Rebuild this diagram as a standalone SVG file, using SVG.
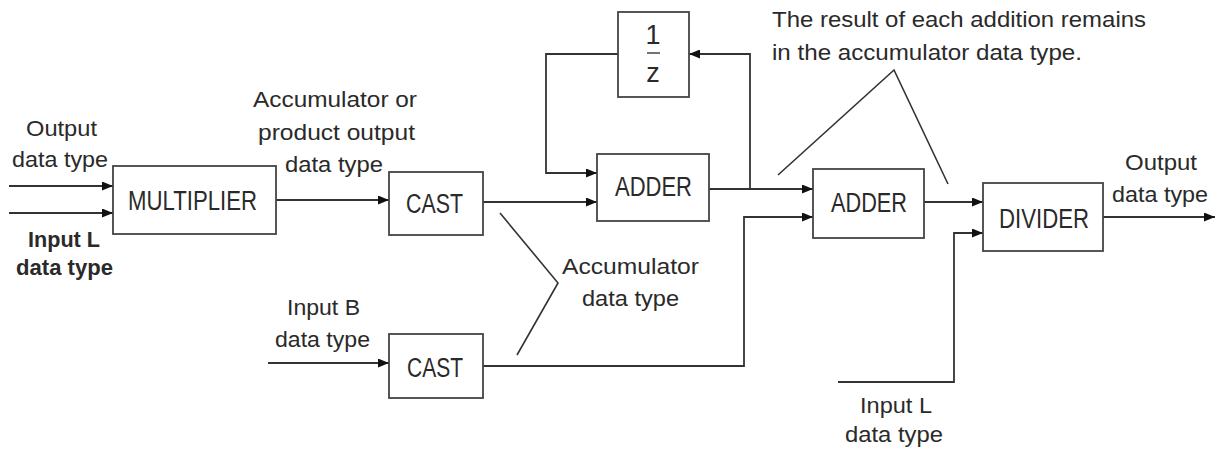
<svg xmlns="http://www.w3.org/2000/svg" width="1215" height="452" viewBox="0 0 1215 452">
<style>
.box{fill:#fff;stroke:#444;stroke-width:1.8}
.ln{fill:none;stroke:#333;stroke-width:1.8}
.ptr{fill:none;stroke:#333;stroke-width:1.6}
.lbl{font-family:"Liberation Sans",Arial,sans-serif;font-size:22px;fill:#2a2a2a}
.blbl{font-family:"Liberation Sans",Arial,sans-serif;font-size:27px;fill:#2a2a2a;text-anchor:middle}
.b{font-weight:bold}
</style>
<defs>
<marker id="ah" markerUnits="userSpaceOnUse" markerWidth="11" markerHeight="9" refX="11" refY="4.5" orient="auto">
<path d="M0,0 L11,4.5 L0,9 z" fill="#111"/>
</marker>
</defs>
<rect width="1215" height="452" fill="#fff"/>
<g id="connectors">
<path class="ln" d="M9,186 H113" marker-end="url(#ah)"/>
<path class="ln" d="M9,213 H113" marker-end="url(#ah)"/>
<path class="ln" d="M276,200 H389" marker-end="url(#ah)"/>
<path class="ln" d="M483,202 H597" marker-end="url(#ah)"/>
<path class="ln" d="M618,54 H546 V173 H597" marker-end="url(#ah)"/>
<path class="ln" d="M709,189 H813" marker-end="url(#ah)"/>
<path class="ln" d="M750,189 V54 H689" marker-end="url(#ah)"/>
<path class="ln" d="M483,366 H744 V217 H813" marker-end="url(#ah)"/>
<path class="ln" d="M268,363 H389" marker-end="url(#ah)"/>
<path class="ln" d="M924,202 H983" marker-end="url(#ah)"/>
<path class="ln" d="M838,382 H954 V233 H983" marker-end="url(#ah)"/>
<path class="ln" d="M1103,217 H1215" marker-end="url(#ah)"/>
<path class="ptr" d="M500,213 L558,283 L517,355"/>
<path class="ptr" d="M778,175 L894,70 L948,184"/>
</g>
<g id="multiplier">
<rect class="box" x="113" y="166" width="163" height="68"/>
<text class="blbl" x="192.5" y="210" textLength="129" lengthAdjust="spacingAndGlyphs">MULTIPLIER</text>
</g>
<g id="cast1">
<rect class="box" x="389" y="172" width="94" height="63"/>
<text class="blbl" x="434.5" y="213" textLength="57" lengthAdjust="spacingAndGlyphs">CAST</text>
</g>
<g id="cast2">
<rect class="box" x="389" y="334" width="94" height="64"/>
<text class="blbl" x="435" y="377" textLength="56" lengthAdjust="spacingAndGlyphs">CAST</text>
</g>
<g id="delay">
<rect class="box" x="618" y="12" width="71" height="85"/>
<text class="blbl" x="653" y="44" font-size="21">1</text>
<line x1="647" y1="53" x2="660" y2="53" stroke="#444" stroke-width="1.5"/>
<text class="blbl" x="653" y="82" font-size="21">z</text>
</g>
<g id="adder1">
<rect class="box" x="597" y="154" width="112" height="67"/>
<text class="blbl" x="653.5" y="196" textLength="77" lengthAdjust="spacingAndGlyphs">ADDER</text>
</g>
<g id="adder2">
<rect class="box" x="813" y="169" width="111" height="69"/>
<text class="blbl" x="869" y="212" textLength="76" lengthAdjust="spacingAndGlyphs">ADDER</text>
</g>
<g id="divider">
<rect class="box" x="983" y="183" width="120" height="68"/>
<text class="blbl" x="1044" y="228" textLength="90" lengthAdjust="spacingAndGlyphs">DIVIDER</text>
</g>
<g id="labels">
<text class="lbl" x="26" y="136" textLength="71" lengthAdjust="spacingAndGlyphs">Output</text>
<text class="lbl" x="12" y="167" textLength="96" lengthAdjust="spacingAndGlyphs">data type</text>
<text class="lbl b" x="28" y="247" textLength="72" lengthAdjust="spacingAndGlyphs">Input L</text>
<text class="lbl b" x="16" y="275" textLength="97" lengthAdjust="spacingAndGlyphs">data type</text>
<text class="lbl" x="253" y="107" textLength="164" lengthAdjust="spacingAndGlyphs">Accumulator or</text>
<text class="lbl" x="258" y="140" textLength="157" lengthAdjust="spacingAndGlyphs">product output</text>
<text class="lbl" x="285" y="172" textLength="98" lengthAdjust="spacingAndGlyphs">data type</text>
<text class="lbl" x="562" y="274" textLength="137" lengthAdjust="spacingAndGlyphs">Accumulator</text>
<text class="lbl" x="582" y="306" textLength="97" lengthAdjust="spacingAndGlyphs">data type</text>
<text class="lbl" x="287" y="315" textLength="73" lengthAdjust="spacingAndGlyphs">Input B</text>
<text class="lbl" x="275" y="347" textLength="95" lengthAdjust="spacingAndGlyphs">data type</text>
<text class="lbl" x="772" y="27" textLength="374" lengthAdjust="spacingAndGlyphs">The result of each addition remains</text>
<text class="lbl" x="772" y="60" textLength="310" lengthAdjust="spacingAndGlyphs">in the accumulator data type.</text>
<text class="lbl" x="860" y="413" textLength="72" lengthAdjust="spacingAndGlyphs">Input L</text>
<text class="lbl" x="845" y="442" textLength="98" lengthAdjust="spacingAndGlyphs">data type</text>
<text class="lbl" x="1125" y="170" textLength="72" lengthAdjust="spacingAndGlyphs">Output</text>
<text class="lbl" x="1112" y="202" textLength="96" lengthAdjust="spacingAndGlyphs">data type</text>
</g>
</svg>
